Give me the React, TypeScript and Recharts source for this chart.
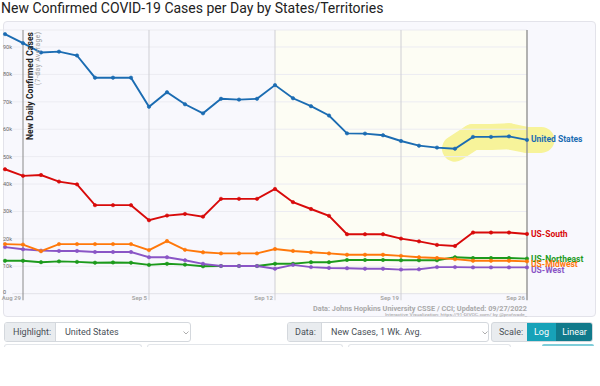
import React from 'react';
import { LineChart, Line, XAxis, YAxis, ReferenceLine, ReferenceArea } from 'recharts';

const dates = [
  'Aug 28', 'Aug 29', 'Aug 30', 'Aug 31', 'Sep 1', 'Sep 2', 'Sep 3', 'Sep 4', 'Sep 5', 'Sep 6',
  'Sep 7', 'Sep 8', 'Sep 9', 'Sep 10', 'Sep 11', 'Sep 12', 'Sep 13', 'Sep 14', 'Sep 15', 'Sep 16',
  'Sep 17', 'Sep 18', 'Sep 19', 'Sep 20', 'Sep 21', 'Sep 22', 'Sep 23', 'Sep 24', 'Sep 25', 'Sep 26',
];

// thousands of cases per day (7-day average)
const usCases = [94.7, 91.4, 88.0, 88.3, 86.9, 78.8, 78.8, 78.8, 68.2, 73.5, 69.1, 65.8, 71.1, 70.8, 71.1, 76.1, 71.3, 68.4, 65.0, 58.5, 58.4, 57.8, 55.7, 54.0, 53.3, 52.9, 57.2, 57.2, 57.4, 56.1];
const southCases = [45.4, 43.0, 43.3, 40.9, 39.9, 32.3, 32.3, 32.3, 26.8, 28.5, 29.1, 28.1, 34.6, 34.6, 34.6, 38.2, 33.4, 30.9, 28.4, 21.7, 21.7, 21.7, 20.1, 19.1, 17.8, 17.4, 22.3, 22.3, 22.3, 21.8];
const midwestCases = [18.1, 17.9, 15.5, 18.1, 18.1, 18.1, 18.1, 18.1, 15.9, 19.2, 16.0, 15.1, 14.7, 14.7, 14.7, 16.3, 15.6, 15.1, 14.7, 14.2, 14.2, 14.2, 13.8, 13.3, 13.0, 12.6, 12.0, 12.0, 12.0, 11.8];
const westCases = [17.0, 16.2, 15.7, 15.6, 15.6, 15.2, 15.2, 15.2, 13.3, 13.3, 12.2, 10.9, 10.1, 10.1, 10.1, 9.1, 10.5, 9.7, 9.4, 9.3, 9.1, 9.1, 8.8, 8.9, 9.7, 9.7, 9.6, 9.6, 9.6, 9.6];
const northeastCases = [12.0, 12.0, 11.5, 11.8, 11.6, 11.3, 11.4, 11.3, 10.5, 10.9, 10.6, 10.0, 10.1, 10.1, 10.1, 10.9, 10.9, 11.5, 11.5, 12.3, 12.3, 12.3, 12.2, 12.2, 12.2, 13.3, 13.0, 13.0, 13.0, 12.8];

// highlighted stretch of the United States line (Sep 22 .. Sep 26)
const highlightFrom = 25;

const xTicks = [1, 8, 15, 22, 29];
const xTickLabels = ['Aug 29', 'Sep 5', 'Sep 12', 'Sep 19', 'Sep 26'];
const yTicks = [0, 10000, 20000, 30000, 40000, 50000, 60000, 70000, 80000, 90000];
const yMax = 96200;
const LAST = dates.length - 1;

const data = dates.map((d, i) => ({
  day: i,
  date: d,
  us: usCases[i] * 1000,
  south: southCases[i] * 1000,
  midwest: midwestCases[i] * 1000,
  west: westCases[i] * 1000,
  northeast: northeastCases[i] * 1000,
}));

// segments of the yellow marker drawn under the highlighted series
const hlSegments: { x1: number; y1: number; x2: number; y2: number }[] = [];
for (let i = highlightFrom; i < LAST; i++) {
  hlSegments.push({ x1: i, y1: usCases[i] * 1000, x2: i + 1, y2: usCases[i + 1] * 1000 });
}
hlSegments.push({ x1: LAST, y1: usCases[LAST] * 1000, x2: LAST + 0.8, y2: usCases[LAST] * 1000 });

const series = [
  { key: 'northeast', name: 'US-Northeast', color: '#1c9a1c', dy: 0 },
  { key: 'west', name: 'US-West', color: '#8a55c6', dy: 3 },
  { key: 'midwest', name: 'US-Midwest', color: '#ff780a', dy: 3 },
  { key: 'south', name: 'US-South', color: '#d80a0a', dy: 0 },
  { key: 'us', name: 'United States', color: '#1b6cb2', dy: -0.5 },
];

const FONT = 'Roboto, "Helvetica Neue", Arial, sans-serif';
const HL = '#f7f39a';

const fmtK = (v: number) => (v === 0 ? '0' : `${v / 1000}k`);

const yLabel = (v: number) => (p: any) => {
  const y = p && p.viewBox ? p.viewBox.y : 0;
  return (
    <text x={3} y={y} dy={v === 0 ? 0.5 : 2} fontSize={5.5} fill="#666" fontFamily={FONT}>
      {fmtK(v)}
    </text>
  );
};

const xLabel = (text: string) => (p: any) => {
  const vb = p && p.viewBox ? p.viewBox : { x: 0, y: 0, height: 0 };
  return (
    <text x={vb.x - 2} y={vb.y + vb.height} dy={-0.3} textAnchor="end" fontSize={6} fontWeight={700} fill="#a8a8a8" fontFamily={FONT}>
      {text}
    </text>
  );
};

const endLabel = (name: string, color: string, dy: number) => (props: any) => {
  const { x, y, index } = props;
  if (index !== LAST) return <g key={`l-${index}`} />;
  return (
    <text key={`l-${index}`} x={x + 4} y={y + dy} dy={3} fill={color} fontSize={8.5} fontWeight={700} fontFamily={FONT}>
      {name}
    </text>
  );
};

const Chevron = ({ left }: { left: number }) => (
  <svg style={{ position: 'absolute', left, top: 8 }} width={6} height={4}>
    <polyline points="0.5,0.5 3,3 5.5,0.5" fill="none" stroke="#999" strokeWidth={0.8} />
  </svg>
);

const ctlText: React.CSSProperties = { fontSize: 9, lineHeight: '19px', fontFamily: FONT, color: '#495057' };

export default function App() {
  return (
    <div style={{ position: 'absolute', left: 0, top: 0, width: 600, height: 386, background: '#fff', overflow: 'hidden', fontFamily: FONT }}>
      <div style={{ position: 'absolute', left: 1, top: 0, fontSize: 14, lineHeight: '17px', color: '#222', whiteSpace: 'nowrap' }}>
        New Confirmed COVID-19 Cases per Day by States/Territories
      </div>
      <div style={{ position: 'absolute', left: 3, top: 21, width: 593, height: 296, boxSizing: 'border-box', border: '1px solid #e3e3ea', borderRadius: 4, background: '#f8f8fd' }} />

      <div style={{ position: 'absolute', left: 0, top: 0 }}>
        <LineChart width={600} height={386} data={data} margin={{ top: 30, right: 73, bottom: 92.3, left: 0 }}>
          <XAxis dataKey="day" type="number" domain={[-5 / 18, 29]} ticks={xTicks} hide height={0} />
          <YAxis type="number" domain={[0, yMax]} ticks={yTicks} hide width={0} />
          <ReferenceArea x1={15} x2={29} y1={0} y2={yMax} fill="#fdfdf4" fillOpacity={1} stroke="none" />
          {hlSegments.map((s, i) => (
            <ReferenceLine
              key={`hl${i}`}
              segment={[{ x: s.x1, y: s.y1 }, { x: s.x2, y: s.y2 }]}
              stroke={HL}
              strokeWidth={26}
              strokeLinecap="round"
              ifOverflow="visible"
            />
          ))}
          <ReferenceLine segment={[{ x: -5 / 18, y: yMax }, { x: 29, y: yMax }]} stroke="#ebebf0" strokeWidth={1} ifOverflow="visible" />
          {yTicks.map((v) => (
            <ReferenceLine
              key={`g${v}`}
              segment={[{ x: 0.4, y: v }, { x: 29, y: v }]}
              stroke={v === 0 ? '#e2e2e8' : '#ececf2'}
              strokeWidth={1}
              ifOverflow="visible"
              label={yLabel(v)}
            />
          ))}
          {xTicks.map((t, i) => (
            <ReferenceLine
              key={`v${t}`}
              segment={[{ x: t, y: -2400 }, { x: t, y: yMax }]}
              stroke={i === 0 || i === xTicks.length - 1 ? '#8a8a8a' : '#cfcfd4'}
              strokeWidth={i === xTicks.length - 1 ? 1.3 : 1}
              ifOverflow="visible"
              label={xLabel(xTickLabels[i])}
            />
          ))}
          {series.map((s) => (
            <Line
              key={s.key}
              type="linear"
              dataKey={s.key}
              stroke={s.color}
              strokeWidth={1.9}
              dot={{ r: 1.7, fill: s.color, stroke: s.color, strokeWidth: 0.6 }}
              isAnimationActive={false}
              label={endLabel(s.name, s.color, s.dy)}
            />
          ))}
        </LineChart>
      </div>

      <svg style={{ position: 'absolute', left: 0, top: 0, pointerEvents: 'none' }} width={600} height={386}>
        <text transform="translate(32.5,32) rotate(-90)" textAnchor="end" fontSize={8.5} fontWeight={700} fill="#222" fontFamily={FONT} textLength={108} lengthAdjust="spacing">
          New Daily Confirmed Cases
        </text>
        <text transform="translate(40,32) rotate(-90)" textAnchor="end" fontSize={6.5} fill="#9a9a9a" fontFamily={FONT} textLength={53} lengthAdjust="spacing">
          (7-day Average)
        </text>
        <text x={527} y={310.5} textAnchor="end" fontSize={6.8} fontWeight={700} fill="#a9a9a9" fontFamily={FONT} textLength={214} lengthAdjust="spacingAndGlyphs">
          Data: Johns Hopkins University CSSE / CCI; Updated: 09/27/2022
        </text>
        <text x={527} y={315.5} textAnchor="end" fontSize={4.3} fill="#9a9a9a" fontFamily={FONT} textLength={142} lengthAdjust="spacingAndGlyphs">
          Interactive Visualization: https://91-DIVOC.com/ by @profwade_
        </text>
      </svg>

      {/* Highlight control */}
      <div style={{ position: 'absolute', left: 4, top: 322, width: 187, height: 20, boxSizing: 'border-box', border: '1px solid #d4d8dd', borderRadius: 3, background: '#fff', overflow: 'hidden' }}>
        <div style={{ ...ctlText, position: 'absolute', left: 0, top: 0, width: 51, height: 19, background: '#e9ecef', borderRight: '1px solid #d4d8dd', paddingLeft: 8, boxSizing: 'border-box' }}>Highlight:</div>
        <div style={{ ...ctlText, position: 'absolute', left: 60, top: 0 }}>United States</div>
        <Chevron left={178} />
      </div>
      {/* Data control */}
      <div style={{ position: 'absolute', left: 287, top: 322, width: 202, height: 20, boxSizing: 'border-box', border: '1px solid #d4d8dd', borderRadius: 3, background: '#fff', overflow: 'hidden' }}>
        <div style={{ ...ctlText, position: 'absolute', left: 0, top: 0, width: 34, height: 19, background: '#e9ecef', borderRight: '1px solid #d4d8dd', paddingLeft: 7, boxSizing: 'border-box' }}>Data:</div>
        <div style={{ ...ctlText, position: 'absolute', left: 43, top: 0 }}>New Cases, 1 Wk. Avg.</div>
        <Chevron left={194} />
      </div>
      {/* Scale control */}
      <div style={{ position: 'absolute', left: 491, top: 322, width: 102, height: 20, boxSizing: 'border-box', border: '1px solid #d4d8dd', borderRadius: 3, background: '#e9ecef', overflow: 'hidden' }}>
        <div style={{ ...ctlText, position: 'absolute', left: 7, top: 0 }}>Scale:</div>
        <div style={{ ...ctlText, position: 'absolute', left: 35, top: 0, width: 29, height: 19, background: '#17a2b8', color: '#fff', textAlign: 'center' }}>Log</div>
        <div style={{ ...ctlText, position: 'absolute', left: 64, top: 0, width: 37, height: 19, background: '#117a8b', color: '#fff', textAlign: 'center' }}>Linear</div>
      </div>

      {/* top edges of the next control row */}
      <div style={{ position: 'absolute', left: 4, top: 344, width: 138, height: 3, borderTop: '1px solid #e3e6ea', borderLeft: '1px solid #e3e6ea', borderRight: '1px solid #e3e6ea', borderRadius: '3px 3px 0 0', boxSizing: 'border-box' }} />
      <div style={{ position: 'absolute', left: 147, top: 344, width: 196, height: 3, borderTop: '1px solid #e3e6ea', borderLeft: '1px solid #e3e6ea', borderRight: '1px solid #e3e6ea', borderRadius: '3px 3px 0 0', boxSizing: 'border-box' }} />
      <div style={{ position: 'absolute', left: 348, top: 344, width: 163, height: 3, borderTop: '1px solid #e3e6ea', borderLeft: '1px solid #e3e6ea', borderRight: '1px solid #e3e6ea', borderRadius: '3px 3px 0 0', boxSizing: 'border-box' }} />
      <div style={{ position: 'absolute', left: 542, top: 344, width: 52, height: 2, background: '#7fcdd9', borderRadius: '3px 3px 0 0' }} />
    </div>
  );
}
